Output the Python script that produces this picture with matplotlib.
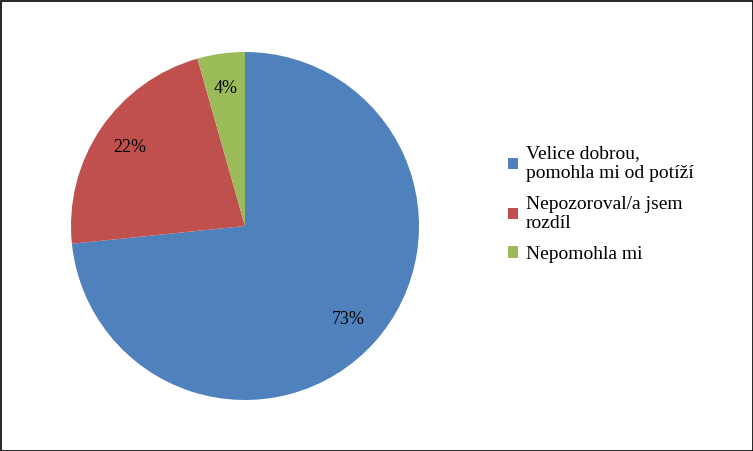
import matplotlib
matplotlib.use("Agg")
import matplotlib.pyplot as plt
from matplotlib.patches import Rectangle

labels = ["Velice dobrou,\npomohla mi od potíží", "Nepozoroval/a jsem\nrozdíl", "Nepomohla mi"]
values = [73.3, 22.2, 4.4]
colors = ["#4F81BD", "#C0504D", "#9BBB59"]

plt.rcParams['font.family'] = ['Liberation Serif', 'DejaVu Serif']
fig = plt.figure(figsize=(7.53, 4.51), dpi=100)
W, H = 753, 451
ax = fig.add_axes([71/W, 51/H, 348/W, 348/H])
wedges, texts, autotexts = ax.pie(values, colors=colors, startangle=90, counterclock=False,
                                  autopct=lambda p: f"{p:.0f}%", pctdistance=0.8, radius=1,
                                  textprops={'fontsize': 13})
ax.set_xlim(-1, 1); ax.set_ylim(-1, 1)
ax.set_aspect('equal')
fig.legend(wedges, labels, loc='upper left', bbox_to_anchor=(490/W, 1-128/H), frameon=False,
           fontsize=14, handlelength=0.55, handleheight=0.55, handletextpad=0.4, labelspacing=0.7)
fig.patches.append(Rectangle((0.5/W, 0.5/H), 1-1/W, 1-1/H, transform=fig.transFigure,
                             fill=False, edgecolor='black', linewidth=1.2))
fig.savefig("out.png", dpi=100)
